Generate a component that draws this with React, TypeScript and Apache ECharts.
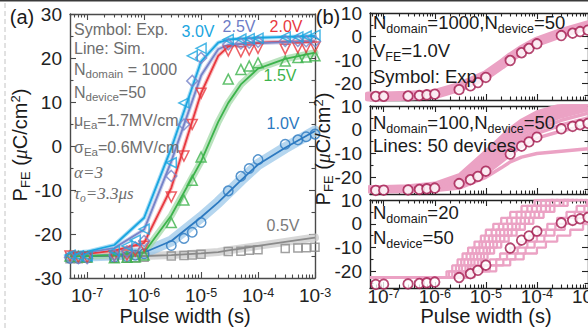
import React, { useEffect, useRef } from "react";
import * as echarts from "echarts";

// ---------------- data ----------------
// experimental pulse widths (s)
const xExp = [5e-8, 7e-8, 1e-7, 3e-7, 5e-7, 7e-7, 1e-6, 3e-6, 5e-6, 7e-6, 1e-5, 3e-5, 5e-5, 7e-5, 1e-4, 3e-4, 5e-4, 7e-4, 1e-3];
const exp05 = [-25.6, -25.6, -25.5, -25.5, -25.5, -25.4, -25.3, -25.0, -24.9, -24.8, -24.6, -24.0, -23.9, -23.7, -23.6, -23.3, -23.2, -23.1, -23.0];
const exp10 = [-25.5, -25.5, -25.4, -25.3, -25.1, -24.8, -24.5, -22.6, -21.0, -19.6, -17.4, -10.2, -6.9, -5.1, -3.1, 0.4, 1.4, 2.1, 2.7];
const exp15 = [-25.0, -25.1, -25.2, -25.4, -25.3, -25.2, -24.8, -17.4, -12.3, -7.8, -2.5, 15.2, 17.4, 18.2, 18.9, 19.3, 20.1, 20.2, 20.5];
const exp20 = [-25.0, -25.3, -25.3, -25.0, -24.8, -23.8, -22.8, -11.6, -2.3, 4.9, 12.0, 21.6, 21.4, 21.8, 22.2, 22.0, 22.3, 22.4, 22.5];
const exp25 = [-25.3, -25.5, -25.5, -24.8, -24.0, -23.0, -21.6, -6.8, 4.9, 14.8, 20.0, 23.1, 23.3, 23.5, 23.7, 23.9, 23.9, 23.8, 23.8];
const exp30 = [-24.8, -25.0, -25.0, -23.9, -22.7, -21.4, -18.9, -3.8, 9.8, 20.5, 22.2, 24.2, 24.3, 24.4, 24.5, 24.8, 24.8, 25.0, 25.2];

// simulation grid (s)
const simX = [5e-8, 1e-7, 3e-7, 1e-6, 3e-6, 1e-5, 2e-5, 3e-5, 5e-5, 1e-4, 3e-4, 1e-3];
const sim05 = [-25, -25, -25, -25, -24.8, -24.4, -24.1, -23.7, -23.3, -22.7, -21.8, -20.8];
const sim10 = [-25, -25, -24.8, -24.2, -21.6, -16.2, -12.8, -10.6, -7.8, -4.2, -0.4, 3.4];
const sim15 = [-25, -25, -24.8, -24.2, -15.8, -3.5, 5.5, 9.8, 14, 17.6, 19.8, 21.2];
const sim20 = [-24.7, -24.5, -23.8, -22, -9.5, 12, 20.5, 22.6, 23.2, 23.5, 23.7, 23.8];
const sim25 = [-24.5, -24.2, -23.2, -19, -3.5, 16, 22, 23, 23.2, 23.4, 23.6, 23.8];
const sim30 = [-24.3, -24, -22.5, -16.3, -0.5, 19.2, 23.5, 24.2, 24.4, 24.6, 24.8, 25];

// panel (b) top: N_domain = 1000 (band centre)
const b1Band = [-25.5, -25.5, -25.2, -24.5, -21.5, -16.5, -12, -9, -5.8, -2.2, 1.5, 4.8];

// panel (b) middle: N_domain = 100, individual devices (on simX)
const b2Devices = [
  [-24, -24, -23.6, -22.5, -19, -9, -3, 0.5, 4, 7.5, 10.5, 12],
  [-24.3, -24.3, -24, -23, -19.8, -10.5, -4.5, -1, 3, 6.5, 10, 12],
  [-24.5, -24.5, -24.2, -23.3, -20.5, -11.5, -5.5, -2, 2, 5.5, 9, 11.5],
  [-24.8, -24.7, -24.5, -23.6, -21, -12.5, -6.5, -3, 1, 4.5, 8.5, 11],
  [-25, -25, -24.7, -24, -21.5, -13.5, -7.5, -4, 0, 3.5, 7.5, 10.5],
  [-25.2, -25.2, -25, -24.3, -22, -14.5, -8.5, -5, -1, 2.5, 6.5, 9.5],
  [-25.4, -25.4, -25.2, -24.6, -22.5, -15.5, -9.5, -6, -2, 1.5, 5.5, 8.5],
  [-25.6, -25.6, -25.4, -24.8, -23, -16.5, -11, -7.5, -3.5, 0, 4, 7],
  [-25.8, -25.8, -25.6, -25, -23.5, -17.5, -12, -9, -5, -1.5, 2, 5],
  [-26, -26, -25.8, -25.3, -24, -18.5, -13.5, -10.5, -7, -3.5, -0.5, 2],
  [-26, -26, -25.9, -25.5, -24.5, -20, -16, -13.5, -11.5, -10, -9, -8],
];

// panel (b) bottom: N_domain = 20, staircase devices
const b3Start = -22.5;
const b3Levels = [-20, -17.5, -15, -12.5, -10, -7.5, -5, -2.5, 0, 2.5, 5, 7.5, 10, 12.5];
// switching pulse widths (s) of each device, one per level step
const b3Switch = [
  [1.7e-6, 2.2e-6, 2.8e-6, 3.5e-6, 4.5e-6, 6e-6, 8e-6, 1e-5, 1.4e-5, 2e-5, 3e-5, 5e-5, 9e-5, 2e-4],
  [1.9e-6, 2.6e-6, 3.3e-6, 4.2e-6, 5.5e-6, 7.5e-6, 9.5e-6, 1.3e-5, 1.8e-5, 2.6e-5, 4e-5, 6.5e-5, 1.2e-4, 2.5e-4],
  [2.2e-6, 3e-6, 3.8e-6, 5e-6, 6.5e-6, 8.5e-6, 1.15e-5, 1.6e-5, 2.2e-5, 3.2e-5, 5e-5, 8e-5, 1.5e-4, 3.5e-4],
  [2.5e-6, 3.4e-6, 4.5e-6, 5.8e-6, 7.5e-6, 1e-5, 1.35e-5, 1.9e-5, 2.7e-5, 4e-5, 6e-5, 1e-4, 1.8e-4, 4e-4],
  [2.8e-6, 4e-6, 5.2e-6, 6.8e-6, 9e-6, 1.2e-5, 1.6e-5, 2.3e-5, 3.3e-5, 4.8e-5, 7.5e-5, 1.2e-4, 2.2e-4, 5e-4],
  [3.2e-6, 4.5e-6, 6e-6, 8e-6, 1.05e-5, 1.4e-5, 1.9e-5, 2.7e-5, 3.9e-5, 5.8e-5, 9e-5, 1.5e-4, 2.8e-4, 6e-4],
  [3.6e-6, 5e-6, 7e-6, 9.2e-6, 1.2e-5, 1.65e-5, 2.3e-5, 3.2e-5, 4.6e-5, 7e-5, 1.1e-4, 1.8e-4, 3.3e-4, 7.5e-4],
  [4e-6, 5.8e-6, 8e-6, 1.08e-5, 1.45e-5, 2e-5, 2.8e-5, 4e-5, 5.8e-5, 8.5e-5, 1.35e-4, 2.2e-4, 4e-4, 9e-4],
  [4.5e-6, 7.5e-6, 1.2e-5, 1.9e-5, 3e-5, 4.6e-5, 7e-5, 1.05e-4, 1.6e-4, 2.5e-4, 3.8e-4, 6e-4, 9.5e-4],
  [5e-6, 9e-6, 1.6e-5, 2.6e-5, 4.2e-5, 6.5e-5, 1e-4, 1.5e-4, 2.3e-4, 3.5e-4, 5.5e-4, 8.5e-4],
  [5.5e-6, 1.2e-5, 2.2e-5, 3.8e-5, 6e-5, 9e-5, 1.4e-4, 2.2e-4, 3.5e-4, 5.5e-4, 9e-4],
  [6e-6, 1.6e-5, 3e-5, 5.5e-5, 1e-4, 1.5e-4, 2.5e-4, 4.5e-4, 8e-4],
];

// axis ticks
const xTickMajor = [1e-7, 1e-6, 1e-5, 1e-4, 1e-3];
const yTickA = [-30, -20, -10, 0, 10, 20, 30];
const yMinorA = [-25, -15, -5, 5, 15, 25];
const yTickB = [-20, -10, 0, 10];
const yMinorB = [-25, -15, -5, 5];

// ---------------- styling ----------------
const FONT = "'Liberation Sans', Arial, Helvetica, sans-serif";
const SERIF = "'Liberation Serif', 'Times New Roman', serif";
const PINK = "#eba2c4";
const MAROON = "#a3194d";
const XMIN_B = 5.4e-8;

const xMinor: number[] = [];
for (let e = -8; e <= -4; e++) for (let m = 2; m <= 9; m++) xMinor.push(Number((m * Math.pow(10, e)).toPrecision(3)));

const zip = (xs: number[], ys: number[]) => xs.map((x, i) => [x, ys[i]]);

function axesFor(g: number, xMin: number, yMin: number, yMax: number, major: number[], minor: number[], color: string, showX: boolean, xLabelMargin: number) {
  const line = { show: true, onZero: false, lineStyle: { color, width: 1.4 } };
  const noLine = { show: false, onZero: false };
  const xBase: any = {
    type: "log", logBase: 10, gridIndex: g, min: xMin, max: 1e-3,
    splitLine: { show: false }, minorTick: { show: false }, minorSplitLine: { show: false },
    axisLabel: { show: false }, silent: true,
  };
  const tick = (len: number, vals: number[]) => ({ show: true, inside: true, length: len, customValues: vals, lineStyle: { color, width: 1.1 } });
  const xs: any[] = [
    {
      ...xBase, position: "bottom", axisLine: line, axisTick: tick(6, xTickMajor),
      axisLabel: showX ? {
        show: true, customValues: xTickMajor, margin: xLabelMargin,
        formatter: (v: number) => `{b|10}{s|${Math.round(Math.log10(v))}}`,
        rich: {
          b: { fontSize: 19, lineHeight: 15, color: "#222", fontFamily: FONT },
          s: { fontSize: 12.5, lineHeight: 10, padding: [0, 0, 5, 0], color: "#222", fontFamily: FONT },
        },
      } : { show: false },
    },
    { ...xBase, position: "bottom", axisLine: noLine, axisTick: tick(3.5, xMinor) },
    { ...xBase, position: "top", axisLine: line, axisTick: tick(6, xTickMajor) },
    { ...xBase, position: "top", axisLine: noLine, axisTick: tick(3.5, xMinor) },
  ];
  const yBase: any = {
    type: "value", gridIndex: g, min: yMin, max: yMax,
    splitLine: { show: false }, axisLabel: { show: false }, silent: true,
  };
  const ys: any[] = [
    {
      ...yBase, position: "left", axisLine: line, axisTick: tick(6, major),
      axisLabel: { show: true, customValues: major, margin: 8, fontSize: 19, color: "#222", fontFamily: FONT },
    },
    { ...yBase, position: "left", axisLine: noLine, axisTick: tick(3.5, minor) },
    { ...yBase, position: "right", axisLine: line, axisTick: tick(6, major) },
    { ...yBase, position: "right", axisLine: noLine, axisTick: tick(3.5, minor) },
  ];
  return { xs, ys };
}

function buildOption() {
  const grids = [
    { left: 70, top: 14, width: 245, height: 264 },
    { left: 370, top: 13, width: 218, height: 87 },
    { left: 370, top: 106, width: 218, height: 88 },
    { left: 370, top: 200, width: 218, height: 88 },
  ].map((g) => ({ ...g, containLabel: false, outerBoundsMode: "none" }));

  const a0 = axesFor(0, 5e-8, -30, 30, yTickA, yMinorA, "#4a4a4a", true, 10);
  const a1 = axesFor(1, XMIN_B, -27, 10, yTickB, yMinorB, "#222", false, 0);
  const a2 = axesFor(2, XMIN_B, -27, 10, yTickB, yMinorB, "#222", false, 0);
  const a3 = axesFor(3, XMIN_B, -27, 10, yTickB, yMinorB, "#222", true, 1);

  const volts = [
    { exp: exp05, sim: sim05, c: "#8a8a8a", band: "#c9c9c9", bw: 8, sym: "rect", size: 8, rot: 0 },
    { exp: exp10, sim: sim10, c: "#2c79c0", band: "#9cc8ea", bw: 11, sym: "circle", size: 9.5, rot: 0 },
    { exp: exp15, sim: sim15, c: "#3cb34b", band: "#a3d9a8", bw: 7, sym: "triangle", size: 10, rot: 0 },
    { exp: exp20, sim: sim20, c: "#e8383f", band: "#f4a9ab", bw: 4, sym: "triangle", size: 10, rot: 180 },
    { exp: exp25, sim: sim25, c: "#7583c9", band: "#b9c0e6", bw: 4, sym: "diamond", size: 11, rot: 0 },
    { exp: exp30, sim: sim30, c: "#1aa5e0", band: "#86d0f1", bw: 4, sym: "triangle", size: 10, rot: 90 },
  ];

  const series: any[] = [];
  volts.forEach((v) => {
    series.push({
      type: "line", xAxisIndex: 0, yAxisIndex: 0, data: zip(simX, v.sim), symbol: "none", silent: true, z: 1,
      lineStyle: { color: v.band, width: v.bw, opacity: 0.75, cap: "round", join: "round" },
    });
  });
  volts.forEach((v) => {
    series.push({
      type: "line", xAxisIndex: 0, yAxisIndex: 0, data: zip(simX, v.sim), symbol: "none", silent: true, z: 2,
      lineStyle: { color: v.c, width: 1.8 },
    });
  });
  volts.forEach((v) => {
    series.push({
      type: "scatter", xAxisIndex: 0, yAxisIndex: 0, data: zip(xExp, v.exp), symbol: v.sym, symbolSize: v.size,
      symbolRotate: v.rot, silent: true, z: 3,
      itemStyle: { color: "rgba(255,255,255,0)", borderColor: v.c, borderWidth: 1.5 },
    });
  });

  // panel (b) top
  series.push({
    type: "line", xAxisIndex: 4, yAxisIndex: 4, data: zip(simX, b1Band), symbol: "none", silent: true,
    lineStyle: { color: PINK, width: 10, cap: "round", join: "round" },
  });
  // panel (b) middle
  b2Devices.forEach((d) => {
    series.push({
      type: "line", xAxisIndex: 8, yAxisIndex: 8, data: zip(simX, d), symbol: "none", silent: true,
      lineStyle: { color: PINK, width: 3.5 },
    });
  });
  // panel (b) bottom: staircases
  b3Switch.forEach((times) => {
    const pts: number[][] = [[XMIN_B, b3Start], ...times.map((t, k) => [t, b3Levels[k]])];
    pts.push([1e-3, b3Levels[times.length - 1]]);
    series.push({
      type: "line", step: "end", xAxisIndex: 12, yAxisIndex: 12, data: pts, symbol: "none", silent: true,
      lineStyle: { color: PINK, width: 2.3 },
    });
  });
  [4, 8, 12].forEach((ai) => {
    series.push({
      type: "scatter", xAxisIndex: ai, yAxisIndex: ai, data: zip(xExp, exp10), symbol: "circle", symbolSize: 9.5,
      silent: true, z: 5, itemStyle: { color: "#fff", borderColor: MAROON, borderWidth: 1.8 },
    });
  });

  const subA = { fontSize: 11.5, lineHeight: 12, padding: [9, 0, 0, 0], fill: "#6e6e6e", fontFamily: FONT };
  const subAS = { ...subA, fontFamily: SERIF, fontStyle: "italic" };
  const grayText = (y: number, text: string, serif = false) => ({
    type: "text", x: 74, y, silent: true, z: 20,
    style: {
      text, fill: "#6e6e6e", fontSize: serif ? 17 : 16, fontFamily: serif ? SERIF : FONT,
      fontStyle: serif ? "italic" : "normal", lineHeight: 18, align: "left", verticalAlign: "middle",
      rich: { s: serif ? subAS : subA },
    },
  });
  const subB = { fontSize: 12.5, lineHeight: 13, padding: [13, 0, 0, 0], fill: "#1a1a1a", fontFamily: FONT };
  const blackText = (y: number, text: string) => ({
    type: "text", x: 373, y, silent: true, z: 20,
    style: {
      text, fill: "#1a1a1a", fontSize: 18.5, fontFamily: FONT, lineHeight: 20, align: "left", verticalAlign: "middle",
      rich: { s: subB },
    },
  });
  const volt = (x: number, y: number, text: string, c: string) => ({
    type: "text", x, y, silent: true, z: 20,
    style: { text, fill: c, fontSize: 16, fontFamily: FONT, align: "center", verticalAlign: "middle" },
  });
  const yTitle = (x: number, y: number) => ({
    type: "text", x, y, rotation: Math.PI / 2, silent: true, z: 20,
    style: {
      text: "P{s|FE} ({i|μ}C/cm{p|2})", fill: "#1a1a1a", fontSize: 20, fontFamily: FONT, lineHeight: 20,
      align: "center", verticalAlign: "middle",
      rich: {
        s: { fontSize: 13, lineHeight: 13, padding: [11, 0, 0, 0], fill: "#1a1a1a", fontFamily: FONT },
        i: { fontSize: 20, lineHeight: 20, fill: "#1a1a1a", fontFamily: SERIF, fontStyle: "italic" },
        p: { fontSize: 13, lineHeight: 13, padding: [0, 0, 10, 0], fill: "#1a1a1a", fontFamily: FONT },
      },
    },
  });
  const xTitle = (x: number, y: number) => ({
    type: "text", x, y, silent: true, z: 20,
    style: { text: "Pulse width (s)", fill: "#1a1a1a", fontSize: 20, lineHeight: 18, fontFamily: FONT, align: "center", verticalAlign: "middle" },
  });

  const graphic: any[] = [
    { type: "rect", shape: { x: 0, y: 0, width: 588, height: 1.6 }, style: { fill: "#3a3a3a" }, silent: true },
    { type: "line", shape: { x1: 5, y1: 3, x2: 5, y2: 329 }, style: { stroke: "#c4c4c4", lineWidth: 1, lineDash: [5, 3] }, silent: true },
    { type: "text", x: 22, y: 17, silent: true, style: { text: "(a)", fill: "#1a1a1a", fontSize: 20, fontFamily: FONT, align: "center", verticalAlign: "middle" } },
    { type: "text", x: 328, y: 17, silent: true, style: { text: "(b)", fill: "#1a1a1a", fontSize: 20, fontFamily: FONT, align: "center", verticalAlign: "middle" } },
    grayText(29, "Symbol: Exp."),
    grayText(48, "Line: Sim."),
    grayText(69, "N{s|domain} = 1000"),
    grayText(92, "N{s|device}=50"),
    grayText(120, "μ{s|Ea}=1.7MV/cm"),
    grayText(147, "σ{s|Ea}=0.6MV/cm"),
    grayText(172, "α=3", true),
    grayText(193, "τ{s|o}=3.3μs", true),
    volt(198, 31, "3.0V", "#1aa5e0"),
    volt(239, 26, "2.5V", "#6d7cc6"),
    volt(286, 26, "2.0V", "#e8383f"),
    volt(280, 75, "1.5V", "#3cb34b"),
    volt(283, 123, "1.0V", "#2c79c0"),
    volt(283, 225, "0.5V", "#7a7a7a"),
    blackText(22, "N{s|domain}=1000,N{s|device}=50"),
    blackText(50, "V{s|FE}=1.0V"),
    blackText(76, "Symbol: Exp"),
    blackText(122, "N{s|domain}=100,N{s|device}=50"),
    blackText(145, "Lines: 50 devices"),
    blackText(212, "N{s|domain}=20"),
    blackText(237, "N{s|device}=50"),
    yTitle(20, 145),
    yTitle(323, 149),
    xTitle(185, 316),
    xTitle(486, 316),
  ];

  return {
    animation: false,
    backgroundColor: "#fff",
    textStyle: { fontFamily: FONT },
    grid: grids,
    xAxis: [...a0.xs, ...a1.xs, ...a2.xs, ...a3.xs],
    yAxis: [...a0.ys, ...a1.ys, ...a2.ys, ...a3.ys],
    series,
    graphic,
  };
}

export default function App() {
  const ref = useRef<HTMLDivElement>(null);
  useEffect(() => {
    if (!ref.current) return;
    const chart = echarts.init(ref.current, null, { renderer: "svg" });
    chart.setOption(buildOption() as any);
    return () => chart.dispose();
  }, []);
  return (
    <div
      ref={ref}
      style={{ position: "fixed", left: 0, top: 0, width: 588, height: 329, background: "#fff" }}
    />
  );
}
